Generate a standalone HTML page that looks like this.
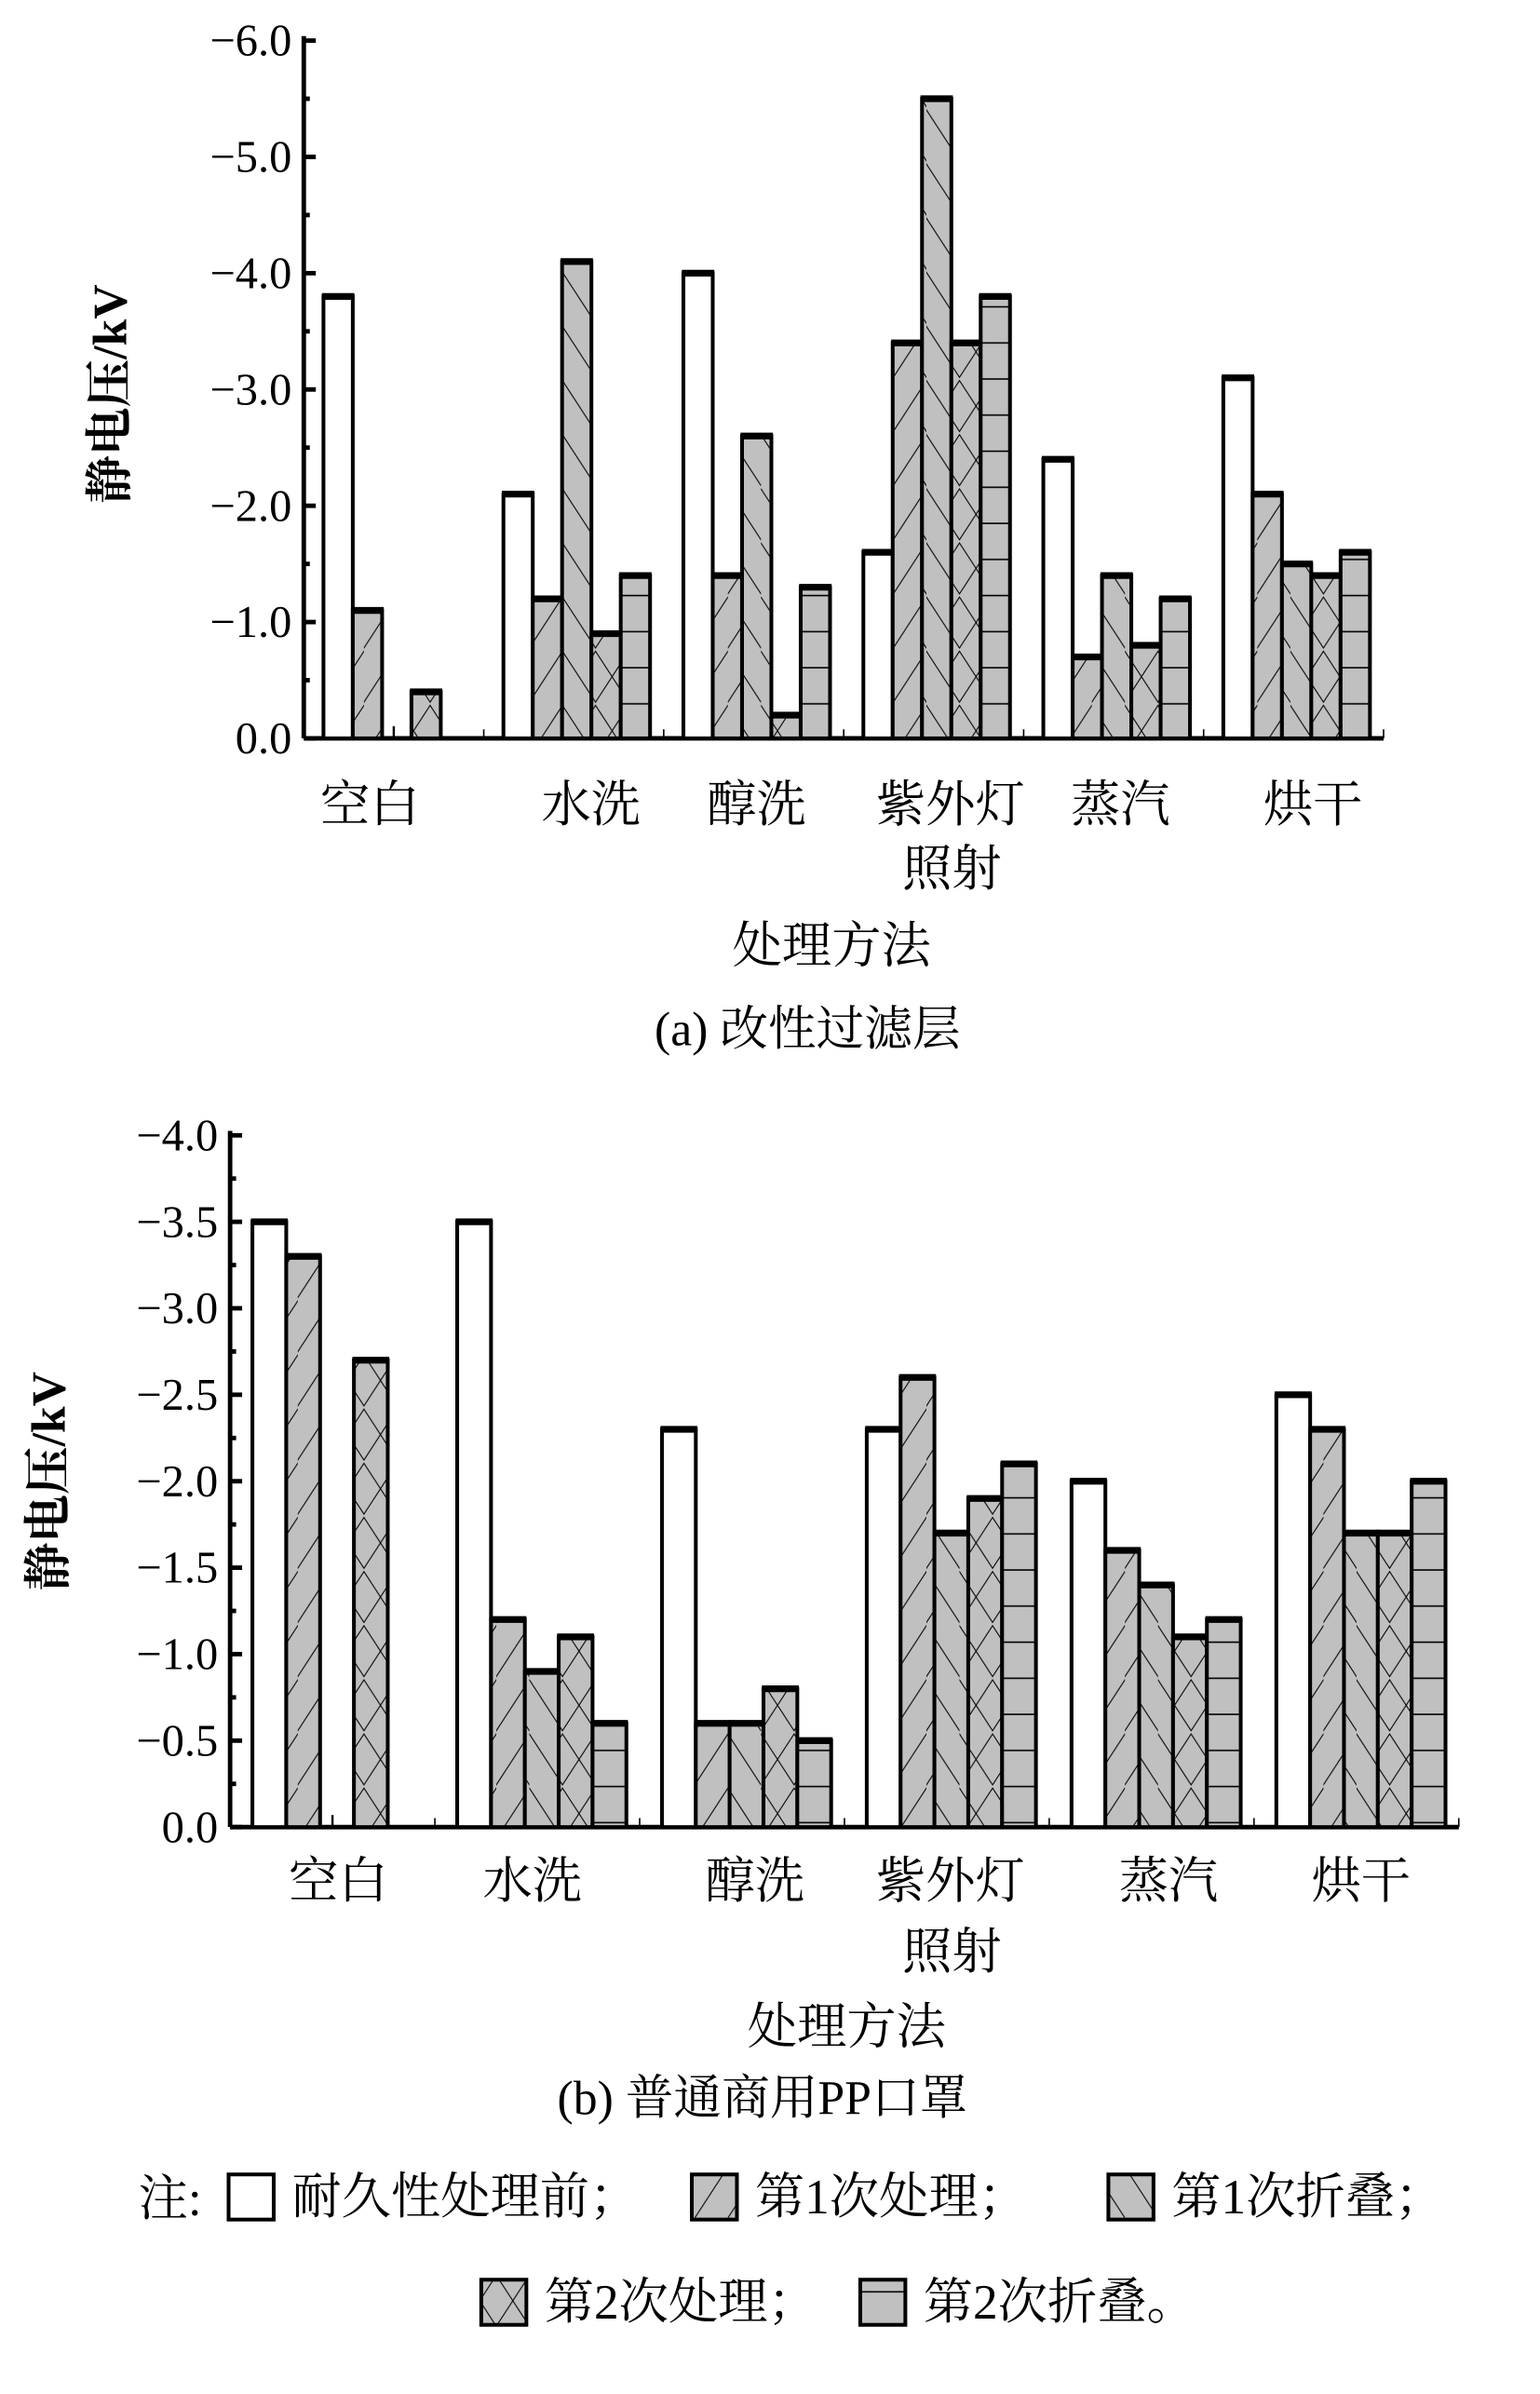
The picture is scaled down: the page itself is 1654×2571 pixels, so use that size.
<!DOCTYPE html>
<html><head><meta charset="utf-8">
<style>
html,body{margin:0;padding:0;background:#fff;}
svg{display:block;}
text{font-family:"Liberation Serif","Noto Serif CJK SC",serif;fill:#000;}
</style></head><body>
<svg id="s" width="1654" height="2571" viewBox="0 0 1024 1592" preserveAspectRatio="none" xmlns="http://www.w3.org/2000/svg">
<defs>
<pattern id="p1" patternUnits="userSpaceOnUse" width="22" height="36"><rect width="22" height="36" fill="#c0c0c0"/><path d="M-2,38 L24,-2" stroke="#000" stroke-width="0.7"/></pattern>
<pattern id="p2" patternUnits="userSpaceOnUse" width="22" height="36"><rect width="22" height="36" fill="#c0c0c0"/><path d="M-2,-2 L24,38" stroke="#000" stroke-width="0.7"/></pattern>
<pattern id="p3" patternUnits="userSpaceOnUse" width="22" height="36"><rect width="22" height="36" fill="#c0c0c0"/><path d="M-2,-2 L24,38 M-2,38 L24,-2" stroke="#000" stroke-width="0.7"/></pattern>
<pattern id="p4" patternUnits="userSpaceOnUse" width="22" height="24"><rect width="22" height="24" fill="#c0c0c0"/><path d="M0,12 L22,12" stroke="#000" stroke-width="1"/></pattern>
</defs>
<g id="g"></g>
</svg>
<script>
var g=document.getElementById('g'),h='';
var fills=['#fff','url(#p1)','url(#p2)','url(#p3)','url(#p4)'];
function chart(ax,top,bot,maxv,step,nd,xend,bw,data,labels,ly,off){
  var per=(bot-top)/maxv;
  h+='<line x1="'+ax+'" y1="'+(top-3)+'" x2="'+ax+'" y2="'+bot+'" stroke="#000" stroke-width="3"/>';
  h+='<line x1="'+ax+'" y1="'+bot+'" x2="'+xend+'" y2="'+bot+'" stroke="#000" stroke-width="3"/>';
  for(var v=0;v<=maxv+1e-9;v+=step/2){var y=bot-v*per;
    var major=Math.abs(v/step-Math.round(v/step))<1e-6;
    h+='<line x1="'+ax+'" y1="'+y+'" x2="'+(ax+(major?8:4))+'" y2="'+y+'" stroke="#000" stroke-width="3"/>';
    if(major) h+='<text x="'+(ax-8)+'" y="'+(y+10)+'" font-size="30" text-anchor="end">'+(v==0?'0.0':'\u2212'+v.toFixed(1))+'</text>';}
  var cw=(xend-ax)/6;
  for(var i=0;i<6;i++){var c=ax+cw*(i+0.5);
    h+='<line x1="'+c+'" y1="'+bot+'" x2="'+c+'" y2="'+(bot-8)+'" stroke="#000" stroke-width="1.5"/>';
    h+='<line x1="'+(ax+cw*(i+1))+'" y1="'+bot+'" x2="'+(ax+cw*(i+1))+'" y2="'+(bot-6)+'" stroke="#000" stroke-width="1"/>';
    var s=c-bw*2.5+off;
    for(var k=0;k<5;k++){var d=data[i][k];if(!d)continue;var y=bot-d*per;
      h+='<rect x="'+(s+k*bw)+'" y="'+y+'" width="'+bw+'" height="'+(bot-y)+'" fill="'+fills[k]+'" stroke="#000" stroke-width="2.5"/>';
      h+='<line x1="'+(s+k*bw-1)+'" y1="'+y+'" x2="'+(s+k*bw+bw+1)+'" y2="'+y+'" stroke="#000" stroke-width="4.5"/>';}
    h+='<text x="'+(labels[i][1]||c)+'" y="'+ly+'" font-size="33" text-anchor="middle">'+labels[i][0]+'</text>';
  }
}
chart(202,27,491,6,1,0,920,19.5,
 [[3.8,1.1,0,0.4,0],[2.1,1.2,4.1,0.9,1.4],[4.0,1.4,2.6,0.2,1.3],[1.6,3.4,5.5,3.4,3.8],[2.4,0.7,1.4,0.8,1.2],[3.1,2.1,1.5,1.4,1.6]],
 [['空白',246],['水洗',393],['醇洗',503],['紫外灯',632],['蒸汽',745],['烘干',873]],546,2);
chart(153,755,1215,4,0.5,0,970,22.5,
 [[3.5,3.3,0,2.7,0],[3.5,1.2,0.9,1.1,0.6],[2.3,0.6,0.6,0.8,0.5],[2.3,2.6,1.7,1.9,2.1],[2.0,1.6,1.4,1.1,1.2],[2.5,2.3,1.7,1.7,2.0]],
 [['空白',225],['水洗',354],['醇洗',502],['紫外灯',632],['蒸汽',777],['烘干',905]],1262,3);
h+='<text x="633" y="589" font-size="33" text-anchor="middle">照射</text>';
h+='<text x="553" y="640" font-size="33" text-anchor="middle">处理方法</text>';
h+='<text x="537" y="695" font-size="32" text-anchor="middle">(a) 改性过滤层</text>';
h+='<text transform="translate(84,262) rotate(-90)" font-size="32" font-weight="bold" text-anchor="middle">静电压/kV</text>';
h+='<text x="633" y="1309" font-size="33" text-anchor="middle">照射</text>';
h+='<text x="563" y="1359" font-size="33" text-anchor="middle">处理方法</text>';
h+='<text x="507" y="1406" font-size="32" text-anchor="middle">(b) 普通商用PP口罩</text>';
h+='<text transform="translate(43,985) rotate(-90)" font-size="32" font-weight="bold" text-anchor="middle">静电压/kV</text>';
h+='<text x="92" y="1473" font-size="33">注:</text>';
var L=[[152,1460,0,'耐久性处理前；'],[460,1460,1,'第1次处理；'],[737,1460,2,'第1次折叠；'],[320,1530,3,'第2次处理；'],[572,1530,4,'第2次折叠。']];
L.forEach(function(l){h+='<rect x="'+l[0]+'" y="'+(l[1]-14)+'" width="30" height="30" fill="'+fills[l[2]]+'" stroke="#000" stroke-width="2.5"/>';
 h+='<text x="'+(l[0]+42)+'" y="'+(l[1]+12)+'" font-size="33">'+l[3]+'</text>';});
g.innerHTML=h;
</script>
</body></html>
